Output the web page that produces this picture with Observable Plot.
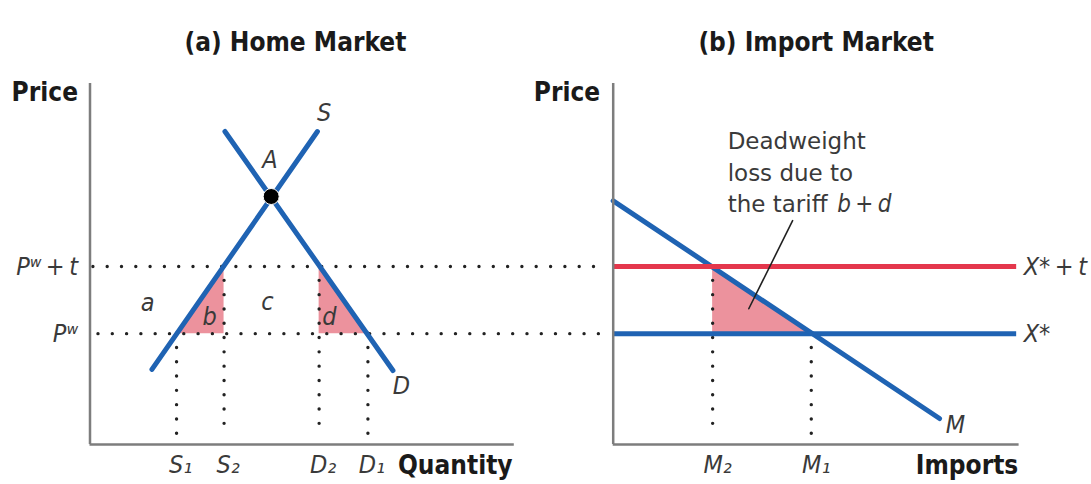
<!DOCTYPE html>
<html>
<head>
<meta charset="utf-8">
<script src="https://cdn.jsdelivr.net/npm/d3@7"></script>
<script src="https://cdn.jsdelivr.net/npm/@observablehq/plot@0.6"></script>
<style>
  html, body { margin: 0; padding: 0; background: #fff; }
  #chart { display: flex; flex-direction: row; width: 1091px; height: 484px; overflow: hidden; }
  #chart svg { overflow: visible; }
</style>
</head>
<body>
<div id="chart"></div>
<script>
// ---------- (a) Home Market ----------
const worldPrice = 30.7;          // P^w
const tariffPrice = 49.3;         // P^w + t
const priceLevelNames = ["Pʷ", "Pʷ\u2009+\u2009t"];
const priceLevels = [worldPrice, tariffPrice];
const dottedStartQ = [2.0, 0.8];  // where the dotted price lines start
const dottedEndQ = [106.5, 106.5];

const homeQtyNames = ["S₁", "S₂", "D₂", "D₁"];
const homeQty = [20.4, 31.6, 54.0, 65.5];
const homeQtyPrice = [worldPrice, tariffPrice, tariffPrice, worldPrice];

const supplyQ = [14.6, 53.6];
const supplyP = [20.8, 86.7];
const demandQ = [31.8, 71.4];
const demandP = [86.7, 20.5];
const equilibriumQ = [42.7];
const equilibriumP = [68.7];

const curveNames = ["S", "A", "D"];
const curveNameQ = [55.2, 42.4, 73.4];
const curveNameP = [91.7, 78.9, 16.3];

const areaNames = ["a", "b", "c", "d"];
const areaQ = [13.6, 28.2, 41.8, 56.4];
const areaP = [39.1, 35.2, 39.6, 35.2];

// ---------- (b) Import Market ----------
const importQtyNames = ["M₂", "M₁"];
const importQty = [24.5, 48.8];
const importQtyPrice = [tariffPrice, worldPrice];
const importDemandQ = [0, 80.4];
const importDemandP = [67.5, 7.2];
const exportSupplyNames = ["X*\u2009+\u2009t", "X*"];
const exportSupplyP = [tariffPrice, worldPrice];
const exportSupplyEndQ = 99.4;
const importDottedStartQ = [-14.1, -15.3]; // continuation of the P^w and P^w + t dotted lines
const importDottedEndQ = -3.5;
const noteLines = ["Deadweight", "loss due to", "the tariff"];
const noteLineP = [84.0, 75.1, 66.4];
const noteQ = 28.2;
const noteItalic = "b\u2009+\u2009d";
const noteItalicQ = 55.2;
const leaderQ = [44.2, 33.4];
const leaderP = [62.0, 37.6];

// ---------- styling ----------
const blue = "#1f63b3", red = "#e4374c", pink = "#ec929d";
const axisGray = "#7d7d7d", dotInk = "#222", ink = "#1a1a1a", soft = "#3a3a3a";
const condensed = '"DejaVu Sans Condensed", "DejaVu Sans", sans-serif';
const regular = '"DejaVu Sans", sans-serif';
const dotted = {stroke: dotInk, strokeWidth: 3.4, strokeDasharray: "0 14.3", strokeLinecap: "round"};
const italicLabel = {fontFamily: condensed, fontStyle: "italic", fontSize: 25, fill: soft};
const boldLabel = {fontFamily: condensed, fontWeight: "bold", fontSize: 26, fill: ink};

const pts = (xs, ys) => xs.map((x, i) => ({x, y: ys[i]}));

// Home market triangles b and d, import market triangle b + d
const triB = [
  {x: homeQty[0], y1: worldPrice, y2: worldPrice},
  {x: homeQty[1], y1: worldPrice, y2: tariffPrice}
];
const triD = [
  {x: homeQty[2], y1: worldPrice, y2: tariffPrice},
  {x: homeQty[3], y1: worldPrice, y2: worldPrice}
];
const triM = [
  {x: importQty[0], y1: worldPrice, y2: tariffPrice},
  {x: importQty[1], y1: worldPrice, y2: worldPrice}
];

const priceRows = priceLevels.map((p, i) => ({p, name: priceLevelNames[i], x1: dottedStartQ[i], x2: dottedEndQ[i]}));
const importPriceRows = priceLevels.map((p, i) => ({p, x1: importDottedStartQ[i], x2: importDottedEndQ}));
const homeQtyRows = homeQty.map((q, i) => ({q, name: homeQtyNames[i], p: homeQtyPrice[i]}));
const importQtyRows = importQty.map((q, i) => ({q, name: importQtyNames[i], p: importQtyPrice[i]}));

const left = Plot.plot({
  width: 545, height: 484,
  marginLeft: 89.5, marginRight: 31.2, marginTop: 83, marginBottom: 40,
  x: {domain: [0, 100], axis: null},
  y: {domain: [0, 100], axis: null},
  style: {fontFamily: condensed, background: "#fff"},
  marks: [
    Plot.areaY(triB, {x: "x", y1: "y1", y2: "y2", fill: pink}),
    Plot.areaY(triD, {x: "x", y1: "y1", y2: "y2", fill: pink}),
    Plot.ruleY(priceRows, {y: "p", x1: "x1", x2: "x2", ...dotted}),
    Plot.ruleX(homeQtyRows, {x: "q", y1: "p", y2: 2.5, ...dotted}),
    Plot.line(pts(supplyQ, supplyP), {x: "x", y: "y", stroke: blue, strokeWidth: 5}),
    Plot.line(pts(demandQ, demandP), {x: "x", y: "y", stroke: blue, strokeWidth: 5}),
    Plot.dot(pts(equilibriumQ, equilibriumP), {x: "x", y: "y", r: 8, fill: "#000", stroke: "#fff", strokeWidth: 1}),
    Plot.ruleX([0], {y1: 0, y2: 100, stroke: axisGray, strokeWidth: 2.5}),
    Plot.ruleY([0], {x1: 0, x2: 100, stroke: axisGray, strokeWidth: 2.5}),
    Plot.text(curveNames, {x: (d, i) => curveNameQ[i], y: (d, i) => curveNameP[i], text: d => d, ...italicLabel}),
    Plot.text(areaNames, {x: (d, i) => areaQ[i], y: (d, i) => areaP[i], text: d => d, ...italicLabel}),
    Plot.text(priceRows, {x: 0, y: "p", text: "name", textAnchor: "end", dx: -12, ...italicLabel}),
    Plot.text(homeQtyRows, {x: "q", y: -5.8, text: "name", dx: 4, ...italicLabel}),
    Plot.text(["Quantity"], {x: 99.6, y: -5.8, text: d => d, textAnchor: "end", ...boldLabel}),
    Plot.text(["Price"], {x: 0, y: 97.5, text: d => d, textAnchor: "end", dx: -12, ...boldLabel}),
    Plot.text(["(a) Home Market"], {frameAnchor: "top", text: d => d, dy: -51, dx: -6.7, ...boldLabel})
  ]
});

const right = Plot.plot({
  width: 546, height: 484,
  marginLeft: 67.7, marginRight: 72.4, marginTop: 83, marginBottom: 40,
  x: {domain: [0, 100], axis: null},
  y: {domain: [0, 100], axis: null},
  style: {fontFamily: condensed, background: "#fff"},
  marks: [
    Plot.areaY(triM, {x: "x", y1: "y1", y2: "y2", fill: pink}),
    Plot.ruleY(importPriceRows, {y: "p", x1: "x1", x2: "x2", ...dotted}),
    Plot.ruleX(importQtyRows, {x: "q", y1: "p", y2: 2.5, ...dotted}),
    Plot.ruleY([exportSupplyP[1]], {y: d => d, x1: 0, x2: exportSupplyEndQ, stroke: blue, strokeWidth: 5}),
    Plot.line(pts(importDemandQ, importDemandP), {x: "x", y: "y", stroke: blue, strokeWidth: 5}),
    Plot.ruleY([exportSupplyP[0]], {y: d => d, x1: 0, x2: exportSupplyEndQ, stroke: red, strokeWidth: 5}),
    Plot.line(pts(leaderQ, leaderP), {x: "x", y: "y", stroke: "#222", strokeWidth: 1.6}),
    Plot.ruleX([0], {y1: 0, y2: 100, stroke: axisGray, strokeWidth: 2.5}),
    Plot.ruleY([0], {x1: 0, x2: 100, stroke: axisGray, strokeWidth: 2.5}),
    Plot.text(noteLines, {x: noteQ, y: (d, i) => noteLineP[i], text: d => d, textAnchor: "start", fontFamily: regular, fontSize: 23, fill: soft}),
    Plot.text([noteItalic], {x: noteItalicQ, y: noteLineP[2], text: d => d, textAnchor: "start", ...italicLabel, fontSize: 24}),
    Plot.text(exportSupplyNames, {x: exportSupplyEndQ, y: (d, i) => exportSupplyP[i], text: d => d, textAnchor: "start", dx: 7, ...italicLabel}),
    Plot.text(["M"], {x: 84.3, y: 5.3, text: d => d, ...italicLabel}),
    Plot.text(importQtyRows, {x: "q", y: -5.8, text: "name", dx: 5, ...italicLabel}),
    Plot.text(["Imports"], {x: 99.8, y: -5.8, text: d => d, textAnchor: "end", ...boldLabel}),
    Plot.text(["Price"], {x: 0, y: 97.5, text: d => d, textAnchor: "end", dx: -13, ...boldLabel}),
    Plot.text(["(b) Import Market"], {frameAnchor: "top", text: d => d, dy: -51, ...boldLabel})
  ]
});

document.getElementById("chart").append(left, right);
</script>
</body>
</html>
